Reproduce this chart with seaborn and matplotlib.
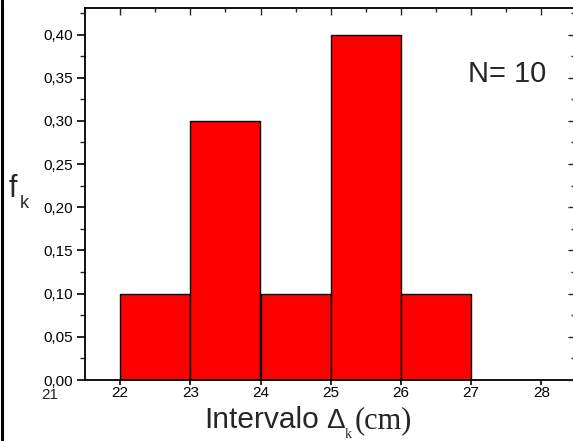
import matplotlib
matplotlib.use("Agg")
import matplotlib.pyplot as plt
import matplotlib.ticker as mticker
import matplotlib.transforms as mtrans
from matplotlib.lines import Line2D
import seaborn as sns

# data
bin_edges = [22, 23, 24, 25, 26, 27]
bin_centers = [22.5, 23.5, 24.5, 25.5, 26.5]
freqs = [0.10, 0.30, 0.10, 0.40, 0.10]
x_ticks = [22, 23, 24, 25, 26, 27, 28]
y_ticks = [0.00, 0.05, 0.10, 0.15, 0.20, 0.25, 0.30, 0.35, 0.40]
n_text = "N= 10"

sns.set_style("ticks")
plt.rcParams['font.family'] = ['Liberation Sans', 'DejaVu Sans']

fig = plt.figure(figsize=(5.73, 4.41), dpi=100)
W, H = 573, 441
ax = fig.add_axes([85 / W, (H - 380) / H, (574 - 85) / W, (380 - 8) / H])

sns.histplot(x=bin_centers, weights=freqs, bins=bin_edges, stat="count",
             color="#ff0000", alpha=1.0, edgecolor="black", linewidth=1.0, ax=ax)

ax.set_xlim(21.5, 21.5 + (574 - 85) / 70.2)
ax.set_ylim(0, 0.4307)

ax.set_xticks(x_ticks)
ax.set_yticks(y_ticks)
ax.yaxis.set_minor_locator(mticker.MultipleLocator(0.025))
ax.yaxis.set_major_formatter(mticker.FuncFormatter(lambda v, p: f"{v:.2f}".replace(".", ",")))
ax.xaxis.set_major_formatter(mticker.FuncFormatter(lambda v, p: f"{v:.0f}"))

for s in ax.spines.values():
    s.set_visible(True)
    s.set_linewidth(1.3)
    s.set_color("black")

ax.tick_params(axis="both", which="major", labelsize=11, width=1.2, color="black", labelcolor="black")
ax.tick_params(axis="x", which="major", length=3.5, pad=1.0)
ax.tick_params(axis="y", which="major", length=6, pad=3)
ax.tick_params(axis="y", which="minor", length=3.5, width=1.0, left=True)
ax.set_xlabel("")
ax.set_ylabel("")

# mirrored inward ticks on top and right
axt = ax.twiny()
axt.set_xlim(ax.get_xlim())
axt.set_xticks(x_ticks)
axt.xaxis.set_minor_locator(mticker.FixedLocator([22.5, 23.5, 24.5, 25.5, 26.5, 27.5]))
axt.tick_params(axis="x", which="major", direction="in", length=5, width=1.0, labeltop=False)
axt.tick_params(axis="x", which="minor", direction="in", length=3, width=1.0)
for s in axt.spines.values():
    s.set_visible(False)
axr = ax.twinx()
axr.set_ylim(ax.get_ylim())
axr.set_yticks(y_ticks)
axr.yaxis.set_minor_locator(mticker.MultipleLocator(0.025))
axr.tick_params(axis="y", which="major", direction="in", length=4, width=1.0, labelright=False)
axr.tick_params(axis="y", which="minor", direction="in", length=2, width=1.0)
for s in axr.spines.values():
    s.set_visible(False)

# extra "21" label left of the axis, on the same row as the x tick labels
t21 = ax.get_xaxis_transform() + mtrans.ScaledTranslation(0, -5.5 / 72, fig.dpi_scale_trans)
ax.text(21.0, 0, "21", ha="center", va="top", fontsize=11, clip_on=False, transform=t21)

# annotation
fig.text(468 / W, 1 - 82 / H, n_text, fontsize=21, ha="left", va="baseline")

# y label f_k
fig.text(9 / W, 1 - 197 / H, "f", fontsize=22, ha="left", va="baseline")
fig.text(20 / W, 1 - 208 / H, "k", fontsize=13, ha="left", va="baseline")

# x label in mixed fonts
fig.text(204 / W, 1 - 428 / H, "Intervalo", fontsize=21.5, ha="left", va="baseline")
fig.text(326 / W, 1 - 428 / H, "Δ", fontsize=20, ha="left", va="baseline")
fig.text(344.5 / W, 1 - 438.5 / H, "k", fontsize=10, ha="left", va="baseline", family="Liberation Serif")
fig.text(355 / W, 1 - 428 / H, "(cm)", fontsize=22, ha="left", va="baseline", family="Liberation Serif")

# left border line
fig.add_artist(Line2D([1.5 / W, 1.5 / W], [0, 1], color="black", linewidth=2.2, transform=fig.transFigure))

fig.savefig("out.png", dpi=100)
